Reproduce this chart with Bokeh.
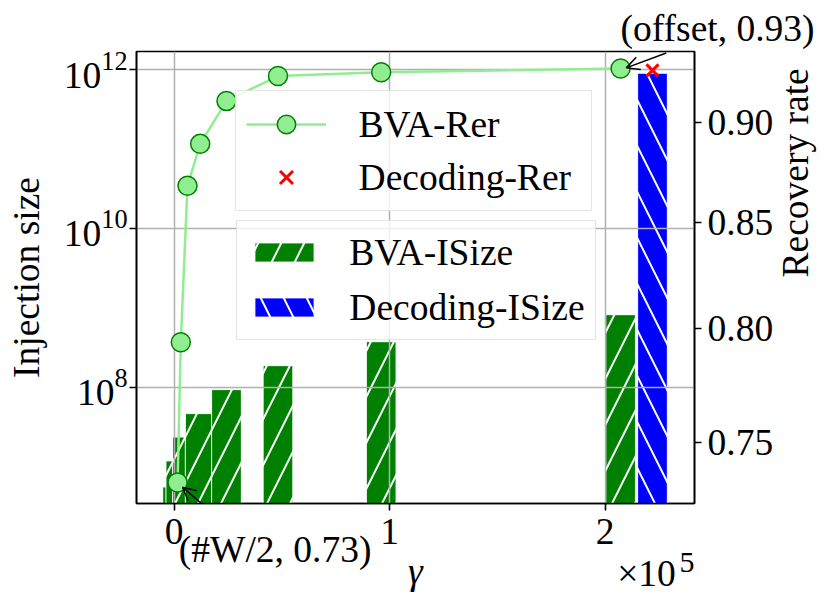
import math
from bokeh.plotting import figure
from bokeh.models import (Range1d, LinearAxis, FixedTicker, LogTickFormatter, PrintfTickFormatter,
                          Legend, LegendItem, Label, Arrow, OpenHead, Title)
from bokeh.embed import file_html
from bokeh.resources import INLINE

# ---- data ----
gamma = [1600, 3100, 6200, 12100, 24300, 48200, 96100, 207200]
bva_isize = [5.5e6, 1.17e7, 2.34e7, 4.62e7, 9.27e7, 1.86e8, 3.73e8, 8.17e8]
bva_rer = [0.733, 0.794, 0.868, 0.889, 0.911, 0.924, 0.926, 0.928]
dec_gamma = [222000]
dec_isize = [9.06e11]
dec_rer = [0.927]
x_ticks = [0, 100000, 200000]
x_tick_labels = ["0", "1", "2"]
left_ticks = [1e8, 1e10, 1e12]
right_ticks = [0.75, 0.80, 0.85, 0.90]

FONT = "Liberation Serif"
FS = "37.5px"

p = figure(frame_width=558, frame_height=452, y_axis_type="log",
           x_range=Range1d(-17460, 241500), y_range=Range1d(10**6.531, 10**12.231),
           output_backend="svg", toolbar_location=None,
           min_border_left=136, min_border_right=129, min_border_top=51, min_border_bottom=100)
p.extra_y_ranges = {"rate": Range1d(0.7243, 0.937)}
p.background_fill_color = "white"
p.border_fill_color = "white"
p.outline_line_color = "black"
p.outline_line_width = 1.6
p.outline_line_alpha = 1.0

# bars
bar_w = 13800
bva_bars = p.vbar(x=gamma, top=bva_isize, bottom=1, width=bar_w, fill_color="#008000",
                  line_color="white", line_width=1, hatch_pattern="/", hatch_color="white",
                  hatch_scale=46, hatch_weight=2, level="image")
dec_bars = p.vbar(x=dec_gamma, top=dec_isize, bottom=1, width=bar_w, fill_color="#0000ff",
                  line_color="white", line_width=1, hatch_pattern="\\", hatch_color="white",
                  hatch_scale=46, hatch_weight=2, level="image")

# recovery rate
bva_line = p.line(gamma, bva_rer, y_range_name="rate", line_color="#90ee90", line_width=2.5)
bva_pts = p.scatter(gamma, bva_rer, y_range_name="rate", marker="circle", size=19,
                    fill_color="#90ee90", line_color="#008000", line_width=1.5)
dec_pts = p.scatter(dec_gamma, dec_rer, y_range_name="rate", marker="x", size=17,
                    line_color="red", line_width=3)

# axes
xt = FixedTicker(ticks=x_ticks)
yt = FixedTicker(ticks=left_ticks)
xa = p.xaxis[0]
xa.ticker = xt
xa.major_label_overrides = dict(zip(x_ticks, x_tick_labels))
xa.axis_label = "γ"
ya = p.yaxis[0]
ya.ticker = yt
ya.formatter = LogTickFormatter()
ya.axis_label = "Injection size"

ra = LinearAxis(y_range_name="rate", ticker=FixedTicker(ticks=right_ticks),
                formatter=PrintfTickFormatter(format="%.2f"), axis_label="Recovery rate")
if "axis_label_orientation" in ra.properties():
    ra.axis_label_orientation = math.pi / 2
p.add_layout(ra, "right")

for ax in (xa, ya, ra):
    ax.axis_line_width = 1.6
    ax.axis_line_color = "black"
    ax.major_tick_line_width = 1.6
    ax.major_tick_out = 7
    ax.major_tick_in = 0
    ax.minor_tick_out = 0
    ax.minor_tick_in = 0
    ax.major_label_text_font = FONT
    ax.major_label_text_font_size = FS
    ax.major_label_text_color = "black"
    ax.axis_label_text_font = FONT
    ax.axis_label_text_font_size = FS
    ax.axis_label_text_color = "black"
    ax.axis_label_text_font_style = "normal"
xa.axis_label_text_font_style = "italic"
xa.major_label_standoff = 8
xa.axis_label_standoff = 4
ya.major_label_standoff = 2
ya.axis_label_standoff = 14
ra.major_label_standoff = 6
ra.axis_label_standoff = 19

p.xgrid[0].ticker = xt
p.ygrid[0].ticker = yt
for g in (p.xgrid[0], p.ygrid[0]):
    g.grid_line_color = "#b0b0b0"
    g.grid_line_width = 1.5

# offset text for x axis (placed in the bottom panel so it is not clipped to the frame)
p.add_layout(Label(x=205620, y=0.69615, y_range_name="rate", text="×10", text_font=FONT,
                   text_font_size=FS, text_baseline="alphabetic", text_color="black"), "below")
p.add_layout(Label(x=234560, y=0.7005, y_range_name="rate", text="5", text_font=FONT,
                   text_font_size="30px", text_baseline="alphabetic", text_color="black"), "below")

# annotations
p.add_layout(Title(text="(offset, 0.93)", align="left", offset=484, standoff=5,
                   vertical_align="bottom", text_font=FONT, text_font_size=FS,
                   text_font_style="normal", text_color="black"), "above")
p.add_layout(Arrow(end=OpenHead(size=13, line_width=1.5, line_color="black"),
                   x_start=228370, y_start=0.9362, x_end=gamma[-1] + 2650, y_end=bva_rer[-1] + 0.0003,
                   y_range_name="rate", line_width=1.5, line_color="black"))
p.add_layout(Label(x=2180, y=0.70555, y_range_name="rate", text="(#W/2, 0.73)", text_font=FONT,
                   text_font_size=FS, text_baseline="alphabetic", text_color="black"), "below")
p.add_layout(Arrow(end=OpenHead(size=13, line_width=1.5, line_color="black"),
                   x_start=33300, y_start=0.70894, x_end=gamma[0] + 2300, y_end=bva_rer[0] - 0.002,
                   y_range_name="rate", line_width=1.5, line_color="black"))

# legends
leg1 = Legend(items=[LegendItem(label="BVA-Rer", renderers=[bva_line, bva_pts]),
                     LegendItem(label="Decoding-Rer", renderers=[dec_pts])],
              location=(98.6, 292), margin=0, padding=10, spacing=7,
              glyph_width=80, glyph_height=46, label_standoff=33, label_width=222,
              label_text_font=FONT, label_text_font_size=FS, label_text_color="black",
              border_line_color="#cccccc", border_line_width=1.5,
              background_fill_color="white", background_fill_alpha=0.8)
leg2 = Legend(items=[LegendItem(label="BVA-ISize", renderers=[bva_bars]),
                     LegendItem(label="Decoding-ISize", renderers=[dec_bars])],
              location=(100.3, 163.5), margin=0, padding=10, spacing=12,
              glyph_width=74, glyph_height=24, label_standoff=28, label_width=233,
              label_text_font=FONT, label_text_font_size=FS, label_text_color="black",
              border_line_color="#cccccc", border_line_width=1.5,
              background_fill_color="white", background_fill_alpha=0.8)
p.add_layout(leg1, "center")
p.add_layout(leg2, "center")

open("out.html", "w").write(file_html(p, INLINE))
